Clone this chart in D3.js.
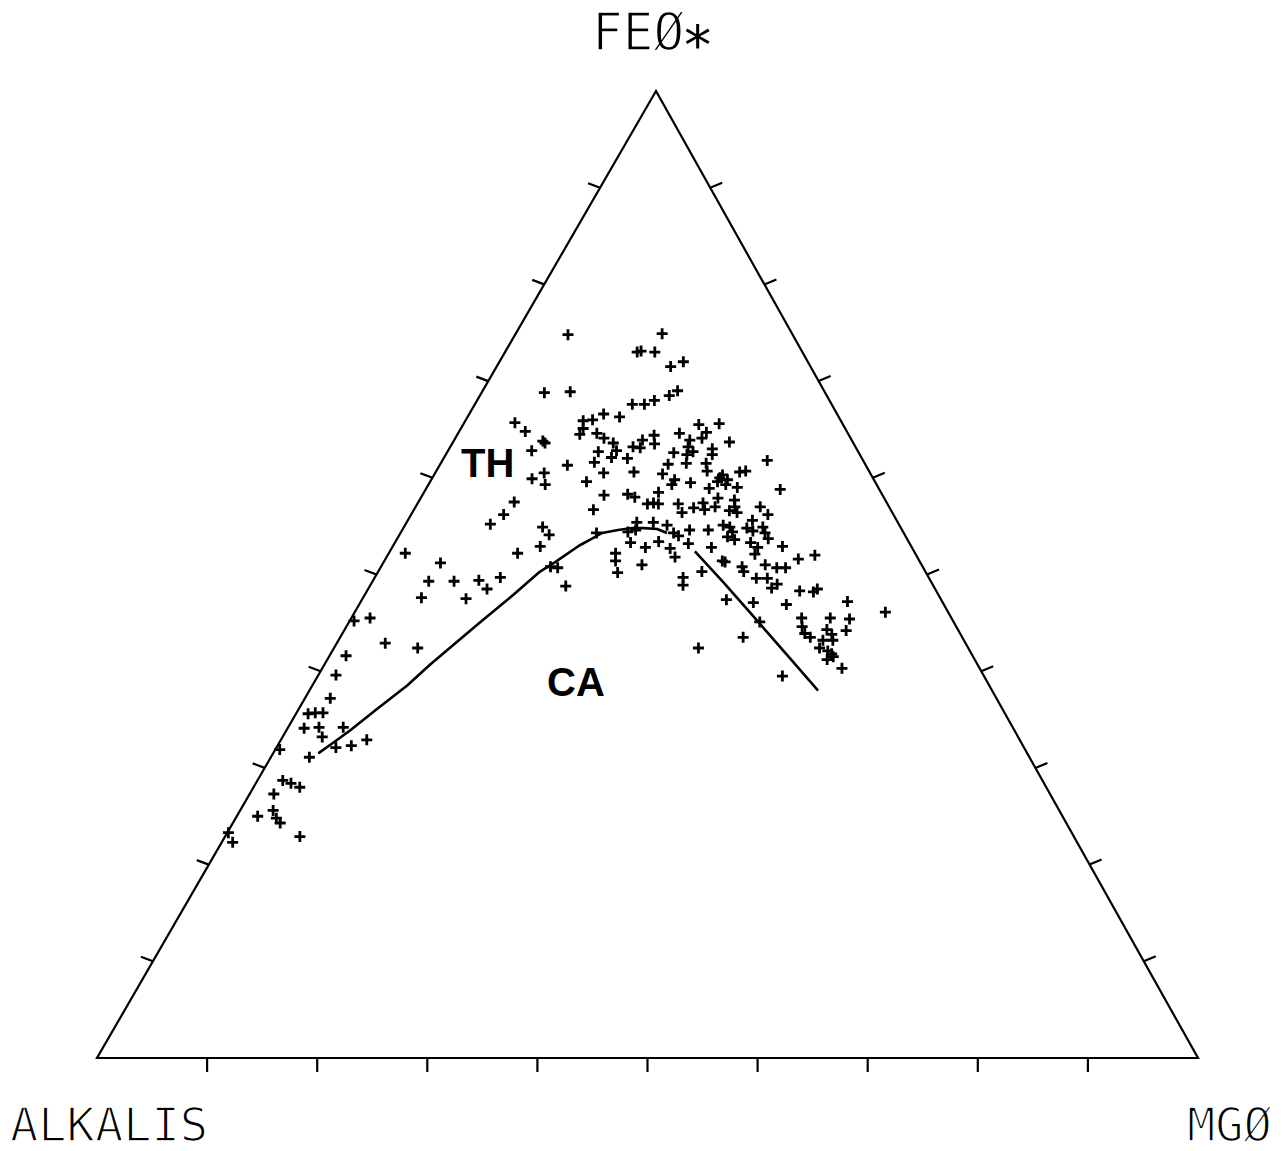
<!DOCTYPE html>
<html>
<head>
<meta charset="utf-8">
<script src="https://cdn.jsdelivr.net/npm/d3@7"></script>
<style>
  html, body { margin: 0; padding: 0; background: #fff; }
  svg { display: block; }
</style>
</head>
<body>
<svg id="chart" width="1284" height="1151"></svg>
<script>
// ---- Data (ternary: FeO*, MgO, remainder = Alkalis; values in %) ----
const apexLabels = ["FEØ", "ALKALIS", "MGØ"];
const fieldLabels = ["TH", "CA"];
const tickValues = [10, 20, 30, 40, 50, 60, 70, 80, 90];

const feo = [74.8,74.9,73.0,73.1,73.0,71.5,72.0,68.8,68.9,67.6,
  67.6,68.0,68.5,69.0,65.7,64.8,62.8,63.8,63.6,59.9,
  60.5,59.3,57.5,56.2,55.2,61.3,59.6,58.2,56.7,54.9,
  54.1,52.9,52.2,52.2,65.9,66.0,65.1,64.5,66.6,66.3,
  64.6,64.1,63.6,62.8,62.1,62.7,61.6,60.5,63.2,63.1,
  63.9,62.0,64.4,63.5,60.6,62.6,64.6,65.5,61.4,60.4,
  61.5,59.8,59.3,59.5,58.5,58.3,58.0,57.3,57.4,57.3,
  57.3,56.4,56.9,55.4,55.4,54.4,54.6,55.1,54.3,54.6,
  53.3,52.8,53.4,52.7,53.2,54.3,63.2,62.4,63.9,62.7,
  54.0,51.8,51.4,50.2,51.0,49.7,48.9,50.8,50.7,48.8,
  52.2,51.2,49.3,49.3,49.4,48.5,49.7,47.6,47.5,45.2,
  45.5,42.9,42.4,41.6,39.6,37.2,35.6,35.7,35.7,34.1,
  34.2,33.2,34.2,31.9,31.1,32.1,32.3,32.9,28.7,28.4,
  28.0,27.3,25.0,25.6,24.8,24.3,22.9,23.3,22.3,
  65.6,64.7,64.1,63.7,63.0,62.4,61.5,60.7,61.8,60.6,60.7,
  60.3,60.0,59.8,59.6,59.3,58.9,59.0,58.8,57.9,57.0,
  57.7,57.0,56.6,56.4,57.0,57.4,56.7,56.2,55.6,54.8,
  55.1,54.9,54.4,53.9,53.6,54.6,54.9,54.3,53.7,53.3,
  52.8,52.1,52.9,52.8,51.4,51.3,50.8,50.3,51.0,49.6,
  49.6,50.7,50.7,51.6,52.0,48.6,49.0,50.3,48.3,48.2,
  48.5,47.4,47.1,46.9,47.2,45.1,45.5,44.6,43.9,43.5,
  45.5,45.4,44.2,46.1,44.3,43.8,43.2,43.2,42.4,42.1,
  41.8,41.2,41.5,40.3,43.5,42.4,39.5,54.5];

const mgo = [4.8,13.3,12.0,12.3,13.6,15.8,16.7,5.7,8.0,14.3,
  15.4,16.1,17.2,17.7,4.6,6.0,7.6,8.1,8.4,9.1,
  9.9,10.6,8.7,8.4,7.7,11.6,14.2,16.5,16.3,12.6,
  13.6,13.4,11.7,20.6,10.7,11.5,11.1,11.1,12.2,13.8,
  12.6,13.5,14.6,15.3,15.2,13.7,13.9,15.3,16.6,17.3,
  17.1,16.7,17.9,18.4,18.0,20.6,20.1,21.4,20.7,20.7,
  22.3,22.1,22.1,23.7,21.3,18.6,19.4,20.9,21.4,21.9,
  23.7,24.5,25.3,22.4,20.9,20.6,21.2,23.8,24.8,26.1,
  21.4,23.0,23.9,25.3,26.7,17.8,21.6,21.9,21.4,22.3,
  25.4,26.2,21.0,21.8,23.6,28.0,28.4,15.4,16.1,17.8,
  1.5,5.2,5.1,7.4,9.6,10.8,11.4,5.3,9.4,0.4,
  1.7,4.4,7.6,1.5,1.6,2.3,1.1,1.7,2.4,1.5,
  2.8,3.6,5.0,0.4,3.5,5.4,6.7,7.8,2.3,3.2,
  4.2,2.2,1.9,3.0,3.7,4.3,6.8,0.1,1.0,
  23.2,22.5,22.4,25.1,23.9,24.2,24.1,24.6,29.5,27.6,28.1,
  26.2,26.1,26.9,26.1,27.0,25.7,28.2,32.2,27.0,27.2,
  28.6,29.0,28.7,29.5,31.3,25.9,26.4,32.4,31.3,31.2,
  28.9,29.6,30.1,29.9,30.7,27.8,32.6,33.1,33.7,32.3,
  33.2,33.3,35.4,29.0,30.7,31.0,32.8,33.2,34.8,35.7,
  34.7,36.0,36.8,37.5,38.8,36.6,36.9,29.4,39.3,40.6,
  40.8,33.1,35.7,38.8,44.2,37.3,40.9,41.4,42.0,42.7,
  43.5,45.3,45.6,48.2,43.8,44.5,44.0,44.9,44.1,45.0,
  45.5,45.4,45.8,47.2,36.6,33.1,42.2,31.9];

// TH / CA dividing line (two drawn pieces)
const lineAFeo = [31.5,32.6,33.9,36.1,38.5,40.7,45.0,47.9,50.3,51.3,53.0,53.7,54.3,54.6,54.8,54.8,54.7,54.3];
const lineAMgo = [4.1,4.9,5.8,7.1,8.6,9.6,11.9,13.5,14.7,15.6,16.9,17.7,18.3,19.6,20.8,21.9,23.1,24.2];
const lineBFeo = [52.4,49.2,45.7,41.3,38.0];
const lineBMgo = [27.7,31.9,36.4,42.0,46.2];

// ---- Layout ----
const svg = d3.select("#chart");
svg.append("rect").attr("width", 1284).attr("height", 1151).attr("fill", "#fff");

// Ternary projection via linear scales
const yScale = d3.scaleLinear().domain([0, 100]).range([1058, 91]);   // FeO*
const xScale = d3.scaleLinear().domain([0, 100]).range([97, 1198]);   // MgO along base
const skew = d3.scaleLinear().domain([0, 100]).range([0, 559]);       // FeO* shift
const px = (f, m) => xScale(m) + skew(f);
const py = (f) => yScale(f);

// Triangle
const corners = [[100, 0], [0, 0], [0, 100]]; // [feo, mgo]
svg.append("path")
  .attr("d", d3.line()(corners.map(c => [px(c[0], c[1]), py(c[0])])) + "Z")
  .attr("fill", "none").attr("stroke", "#000").attr("stroke-width", 2.2)
  .attr("stroke-linejoin", "miter");

// Ticks
const tk = svg.append("g").attr("stroke", "#000").attr("stroke-width", 2.2);
tickValues.forEach(v => {
  tk.append("line").attr("x1", px(0, v)).attr("y1", py(0))
    .attr("x2", px(0, v)).attr("y2", py(0) + 14);
  tk.append("line").attr("x1", px(v, 0)).attr("y1", py(v))
    .attr("x2", px(v, 0) - 12).attr("y2", py(v) - 4.5);
  tk.append("line").attr("x1", px(v, 100 - v)).attr("y1", py(v))
    .attr("x2", px(v, 100 - v) + 12).attr("y2", py(v) - 5);
});

// Dividing line
const lineGen = d3.line().curve(d3.curveLinear);
[[lineAFeo, lineAMgo], [lineBFeo, lineBMgo]].forEach(([fs, ms]) => {
  svg.append("path")
    .attr("d", lineGen(fs.map((f, i) => [px(f, ms[i]), py(f)])))
    .attr("fill", "none").attr("stroke", "#000").attr("stroke-width", 2.6)
    .attr("stroke-linejoin", "round");
});

// Points
svg.append("g").selectAll("path").data(feo.map((f, i) => [f, mgo[i]]))
  .join("path")
  .attr("transform", d => `translate(${px(d[0], d[1])},${py(d[0])})`)
  .attr("d", "M-5.5,0H5.5M0,-5.5V5.5")
  .attr("stroke", "#000").attr("stroke-width", 2.8).attr("fill", "none");

// Apex labels (thin plotter-like lettering)
const lab = svg.append("g").attr("font-family", "'DejaVu Sans Mono', monospace")
  .attr("fill", "#000").attr("stroke", "#fff").attr("stroke-width", 1.6)
  .attr("paint-order", "normal");
const t0 = lab.append("text").attr("x", 592).attr("y", 50).attr("font-size", 51).text(apexLabels[0]);
t0.append("tspan").attr("font-size", 54).attr("dy", 3).attr("dx", -3)
  .attr("stroke", "none").text("∗");
lab.append("text").attr("x", 10).attr("y", 1141).attr("font-size", 47).text(apexLabels[1]);
lab.append("text").attr("x", 1187).attr("y", 1141).attr("font-size", 47).text(apexLabels[2]);

// Field labels
const fl = svg.append("g").attr("font-family", "'Liberation Sans', Arial, sans-serif")
  .attr("font-weight", "bold").attr("font-size", 40).attr("fill", "#000");
fl.append("text").attr("x", 461).attr("y", 477).text(fieldLabels[0]);
fl.append("text").attr("x", 547).attr("y", 696).text(fieldLabels[1]);
</script>
</body>
</html>
